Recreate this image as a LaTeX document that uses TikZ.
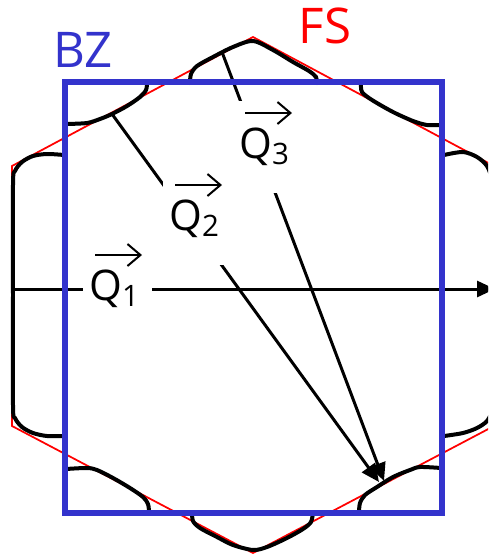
\documentclass[tikz,border=0pt]{standalone}
\usepackage{fontspec}
\setmainfont{Open Sans}
\usetikzlibrary{arrows.meta}
\definecolor{bzblue}{RGB}{51,51,204}

\begin{document}
\begin{tikzpicture}[x=0.02cm, y=-0.02cm, >={Triangle[length=0.36cm, width=0.32cm]},
    hexa/.style={red, line width=0.035cm},
    fermi/.style={line width=0.08cm, line cap=round},
    bz/.style={bzblue, line width=0.12cm},
    qarrow/.style={->, line width=0.06cm},
    qlab/.style={anchor=base west, fill=white, inner xsep=0.12cm, inner ysep=0.1cm,
      text height=1.04cm, text depth=0.6cm, font=\fontsize{24}{28}\selectfont},
    vecarr/.style={-{Straight Barb[length=0.26cm, width=0.44cm]}, line width=0.04cm},
    title/.style={font=\fontsize{28}{30}\selectfont}]

    \useasboundingbox (0,0) rectangle (488,555);
    \clip (0,0) rectangle (488,555);

    %% 六边形 FS
    \draw[hexa] (253,37) -- (494,166) -- (494,426) -- (253,553)
      -- (12,426) -- (12,166) -- cycle;
    \node[title, red] (fs) at (325,26) {FS};

    %% 费米面口袋
    % 1. 上
    \draw[fermi] plot[smooth] coordinates {(190,83) (191,74) (197,66) (213,57) (233,47)
      (253,41) (273,50) (293,62) (309,71) (316,77) (317,83)};
    % 2. 下
    \draw[fermi] plot[smooth] coordinates {(192,512) (193,521) (200,528) (217,537) (233,545)
      (253,550) (267,547) (287,538) (303,529) (311,522) (313,512)};
    % 3. 左
    \draw[fermi] plot[smooth] coordinates {(64,155) (47,154) (33,156) (22,162) (15,171)
      (13,185) (13,295) (13,405) (15,418) (22,427) (33,433) (47,436) (64,436)};
    % 4. 右
    \draw[fermi] plot[smooth] coordinates {(444,155) (463,152) (477,157) (487,166) (492,180)
      (493,200) (493,295) (493,390) (492,410) (487,421) (477,428) (463,433) (444,436)};
    % 5. 左上 (BZ 内)
    \draw[fermi] plot[smooth] coordinates {(66,124) (87,123) (100,119) (112,114) (127,106)
      (140,97) (146,90) (147,83)};
    % 6. 右上 (BZ 内)
    \draw[fermi] plot[smooth] coordinates {(361,83) (362,92) (372,100) (393,112) (413,121)
      (427,125) (441,125)};
    % 7. 左下 (BZ 内)
    \draw[fermi] plot[smooth] coordinates {(66,469) (87,468) (97,470) (113,478) (130,488)
      (143,497) (148,504) (149,512)};
    % 8. 右下 (BZ 内)
    \draw[fermi] plot[smooth] coordinates {(359,512) (360,503) (365,495) (377,487) (393,477)
      (410,470) (420,467) (441,468)};

    %% 矢量 Q
    \coordinate (q1s) at (13,289);
    \coordinate (q1e) at (495,289);
    \coordinate (q2s) at (112,114);
    \coordinate (q2e) at (379,482);
    \coordinate (q3s) at (222,52);
    \coordinate (q3e) at (384,481);
    \draw[qarrow] (q1s) -- (q1e);
    \draw[qarrow] (q2s) -- (q2e);
    \draw[qarrow] (q3s) -- (q3e);
    \node[qlab] (q1) at (83,300) {Q\textsubscript{1}\kern0.15em};
    \node[qlab] (q2) at (163,230) {Q\textsubscript{2}\kern0.15em};
    \node[qlab] (q3) at (233,158) {Q\textsubscript{3}\kern0.15em};
    % 矢量箭头
    \foreach \q in {q1, q2, q3}
      \draw[vecarr] ([shift={(12,-45)}]\q.base west) -- ++(47,0);

    %% 布里渊区 BZ
    \draw[bz] (65,82) rectangle (442,513);
    \node[title, bzblue] (bz) at (83,50) {BZ};

  \end{tikzpicture}
\end{document}
